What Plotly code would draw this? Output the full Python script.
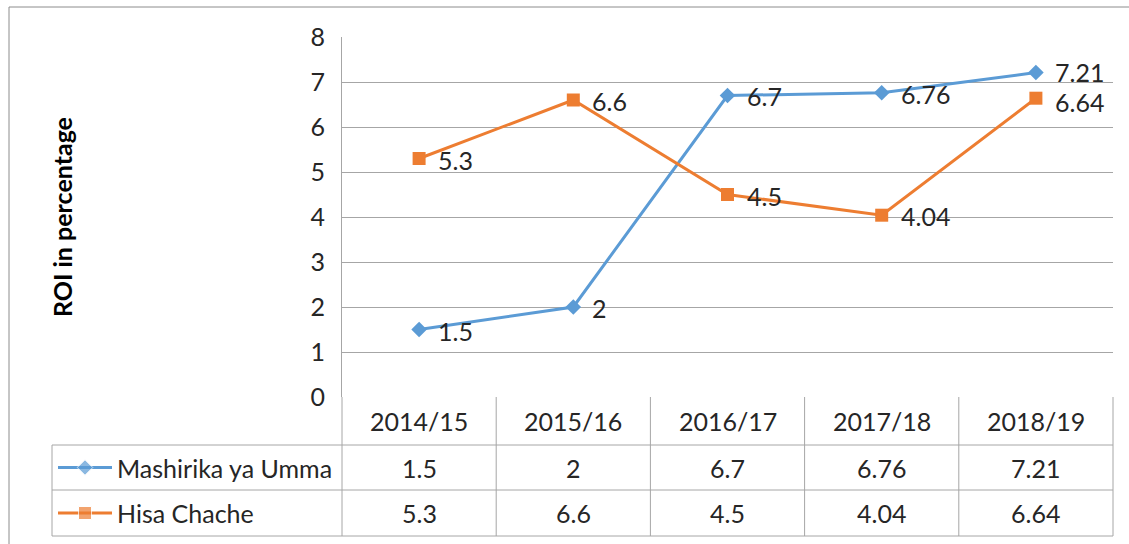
import plotly.graph_objects as go

categories = ["2014/15", "2015/16", "2016/17", "2017/18", "2018/19"]
mashirika = [1.5, 2, 6.7, 6.76, 7.21]
hisa = [5.3, 6.6, 4.5, 4.04, 6.64]
mashirika_labels = ["1.5", "2", "6.7", "6.76", "7.21"]
hisa_labels = ["5.3", "6.6", "4.5", "4.04", "6.64"]
series_names = ["Mashirika ya Umma", "Hisa Chache"]
y_ticks = list(range(0, 9))
y_title = "ROI in percentage"

W, H = 1129, 544
L, R, T, B = 342, 1113, 37, 397
LEG_L = 52
ROW_Y = [397, 445, 490, 536]

BLUE = "#5B9BD5"
ORANGE = "#ED7D31"
GRID = "#A6A6A6"
FRAME = "#8C8C8C"
TXT = "#262626"
FONT = "Lato"
FS = 25
# small vertical nudges of data labels (series index, point index) -> px
LABEL_NUDGE = {(0, 4): 2, (1, 4): -3}


def fx(px):
    return px / W


def fy(py):
    return 1 - py / H


fig = go.Figure()

fig.add_trace(go.Scatter(
    x=categories, y=mashirika, mode="lines+markers",
    line=dict(color=BLUE, width=3),
    marker=dict(symbol="diamond", size=12, color=BLUE),
    name=series_names[0], cliponaxis=False, showlegend=False,
))
fig.add_trace(go.Scatter(
    x=categories, y=hisa, mode="lines+markers",
    line=dict(color=ORANGE, width=3),
    marker=dict(symbol="square", size=13, color=ORANGE),
    name=series_names[1], cliponaxis=False, showlegend=False,
))

# legend swatches inside the data table (own small axes)
for i, (col, sym, sz) in enumerate([(BLUE, "diamond", 12), (ORANGE, "square", 13)]):
    fig.add_trace(go.Scatter(
        x=[0, 1, 2], y=[0, 0, 0], mode="lines+markers",
        line=dict(color=col, width=3),
        marker=dict(symbol=sym, size=[0, sz, 0], color=col),
        xaxis="x%d" % (i + 2), yaxis="y%d" % (i + 2),
        showlegend=False, hoverinfo="skip", cliponaxis=False,
    ))

shapes = []


def hline(y, x0, x1, color=GRID, w=1):
    shapes.append(dict(type="line", xref="paper", yref="paper",
                       x0=fx(x0), x1=fx(x1), y0=fy(y), y1=fy(y),
                       line=dict(color=color, width=w)))


def vline(x, y0, y1, color=GRID, w=1):
    shapes.append(dict(type="line", xref="paper", yref="paper",
                       x0=fx(x), x1=fx(x), y0=fy(y0), y1=fy(y1),
                       line=dict(color=color, width=w)))


# outer frame
hline(7, 9, W, FRAME)
vline(9, 7, H, FRAME)

# table grid
for yy in ROW_Y[1:]:
    hline(yy, LEG_L, R)
vline(L, B, ROW_Y[-1])
vline(LEG_L, ROW_Y[1], ROW_Y[-1])
col_w = (R - L) / len(categories)
for k in range(1, len(categories) + 1):
    vline(L + k * col_w, B, ROW_Y[-1])

annotations = []
# data labels
for s, (vals, labs) in enumerate(((mashirika, mashirika_labels), (hisa, hisa_labels))):
    for p, (c, v, t) in enumerate(zip(categories, vals, labs)):
        annotations.append(dict(x=c, y=v, xref="x", yref="y", text=t, showarrow=False,
                                xanchor="left", yanchor="middle", xshift=17,
                                yshift=-1 + LABEL_NUDGE.get((s, p), 0),
                                font=dict(size=FS, color=TXT, family=FONT)))

# header row + values
for i, c in enumerate(categories):
    for r, t in enumerate((c, mashirika_labels[i], hisa_labels[i])):
        annotations.append(dict(x=c, xref="x", y=fy((ROW_Y[r] + ROW_Y[r + 1]) / 2), yref="paper",
                                xanchor="center", yanchor="middle",
                                text=t, showarrow=False,
                                font=dict(size=FS, color=TXT, family=FONT)))
for j, nm in enumerate(series_names):
    annotations.append(dict(x=fx(115), xref="paper", xanchor="left", yanchor="middle",
                            y=fy((ROW_Y[j + 1] + ROW_Y[j + 2]) / 2), yref="paper",
                            text=nm, showarrow=False,
                            font=dict(size=FS, color=TXT, family=FONT)))

annotations.append(dict(x=fx(62), xref="paper", y=fy(217), yref="paper",
                        xanchor="center", yanchor="middle",
                        text="<b>%s</b>" % y_title, textangle=-90, showarrow=False,
                        font=dict(size=FS, color="#000000", family=FONT)))

fig.update_layout(
    template="none",
    width=W, height=H, autosize=False,
    margin=dict(l=0, r=0, t=0, b=0, pad=0),
    paper_bgcolor="white", plot_bgcolor="white",
    font=dict(family=FONT, color=TXT),
    showlegend=False,
    xaxis=dict(domain=[fx(L), fx(R)], range=[-0.5, len(categories) - 0.5],
               type="category", categoryarray=categories, automargin=False,
               showticklabels=False, showgrid=False, zeroline=False, showline=False,
               ticks="", fixedrange=True),
    yaxis=dict(domain=[fy(B), fy(T)], range=[0, 8], tickvals=y_ticks, automargin=False,
               showgrid=True, gridcolor=GRID, gridwidth=1, zeroline=False,
               showline=True, linecolor=GRID, linewidth=1, ticks="",
               ticklabelstandoff=11,
               tickfont=dict(size=FS, color=TXT, family=FONT), fixedrange=True),
    xaxis2=dict(domain=[fx(58), fx(112)], range=[0, 2], visible=False, anchor="y2", automargin=False),
    yaxis2=dict(domain=[fy(ROW_Y[2]), fy(ROW_Y[1])], range=[-1, 1], visible=False, anchor="x2", automargin=False),
    xaxis3=dict(domain=[fx(58), fx(112)], range=[0, 2], visible=False, anchor="y3", automargin=False),
    yaxis3=dict(domain=[fy(ROW_Y[3]), fy(ROW_Y[2])], range=[-1, 1], visible=False, anchor="x3", automargin=False),
    shapes=shapes,
    annotations=annotations,
)

fig.write_html("out.html", config={"displayModeBar": False},
               post_script="document.body.style.margin='0';document.body.style.overflow='hidden';")
